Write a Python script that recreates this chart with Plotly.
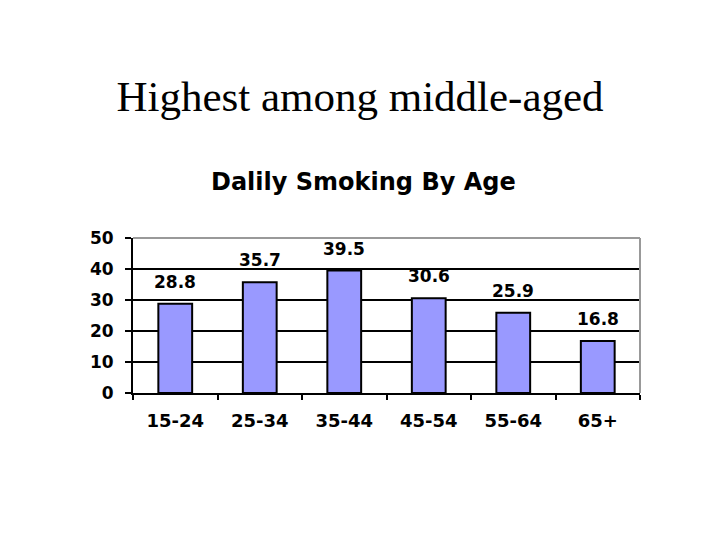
import plotly.graph_objects as go

categories = ["15-24", "25-34", "35-44", "45-54", "55-64", "65+"]
values = [28.8, 35.7, 39.5, 30.6, 25.9, 16.8]
y_ticks = [0, 10, 20, 30, 40, 50]

SANS = "DejaVu Sans"

fig = go.Figure()
fig.add_trace(go.Bar(
    x=categories, y=values,
    marker=dict(color="#9999FF", line=dict(color="black", width=2)),
    width=0.4, hoverinfo="skip",
))

for c, v in zip(categories, values):
    fig.add_annotation(x=c, y=v, text=f"<b>{v}</b>", showarrow=False,
                       yshift=22, font=dict(family=SANS, size=17, color="black"))

fig.update_layout(
    width=720, height=540,
    paper_bgcolor="white", plot_bgcolor="white",
    margin=dict(l=125, r=88, t=230, b=155),
    showlegend=False,
    title=dict(text="Highest among middle-aged", x=352/720, xanchor="center",
               y=1 - 88/540, yanchor="middle", xref="container", yref="container",
               font=dict(family="Liberation Serif", size=43, color="black")),
    xaxis=dict(type="category", tickson="boundaries", ticks="outside", ticklen=5,
               tickcolor="black", tickwidth=2, showline=True, linecolor="black", linewidth=2,
               showgrid=False, ticklabelstandoff=10,
               tickfont=dict(family=SANS, size=18, color="black", weight="bold")),
    yaxis=dict(range=[0, 50], tickvals=y_ticks, ticks="outside", ticklen=6,
               tickcolor="black", tickwidth=2, showline=True, linecolor="black", linewidth=2,
               showgrid=True, gridcolor="black", gridwidth=2, zeroline=False,
               ticklabelstandoff=8,
               tickfont=dict(family=SANS, size=17, color="black", weight="bold")),
)

fig.add_annotation(xref="paper", yref="paper", x=(355 - 125) / (632 - 125), y=1,
                   yanchor="middle", xanchor="center",
                   yshift=56, text="<b>Dalily Smoking By Age</b>", showarrow=False,
                   font=dict(family=SANS, size=24, color="black"))

fig.add_shape(type="line", xref="paper", yref="paper", x0=0, x1=1, y0=1, y1=1,
              line=dict(color="#999999", width=2), layer="above")
fig.add_shape(type="line", xref="paper", yref="paper", x0=1, x1=1, y0=0, y1=1,
              line=dict(color="#999999", width=2), layer="above")

fig.write_html("out.html")
